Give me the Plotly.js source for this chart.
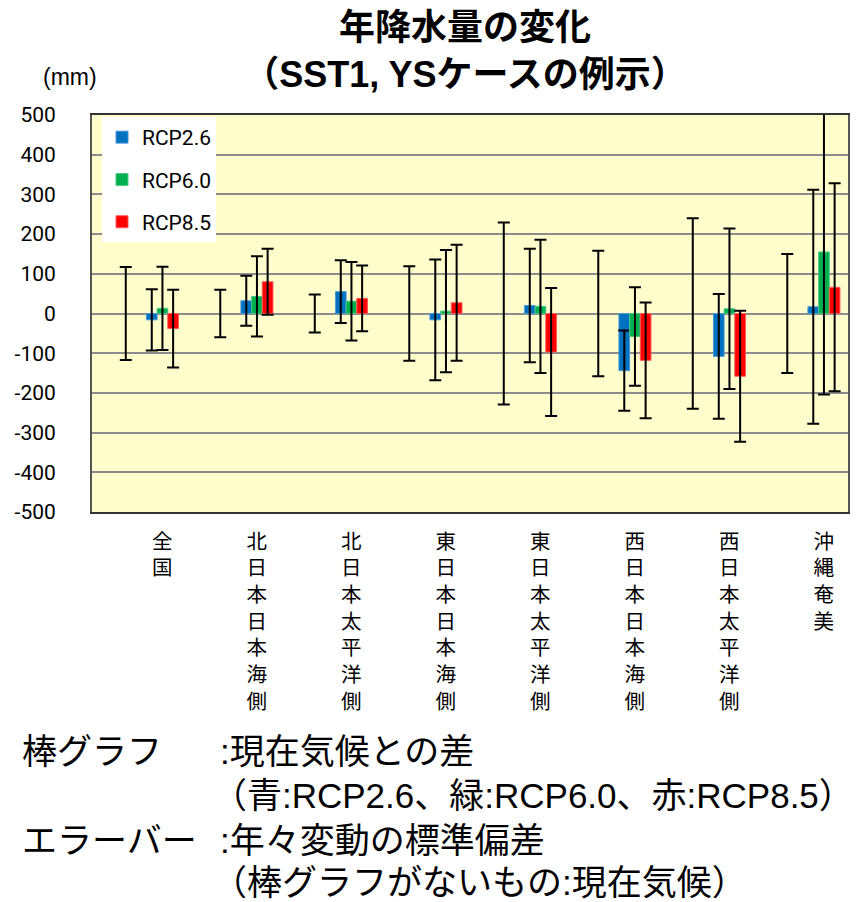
<!DOCTYPE html>
<html>
<head>
<meta charset="utf-8">
<script src="https://cdn.plot.ly/plotly-3.0.1.min.js"></script>
<style>
html,body{margin:0;padding:0;background:#fff;}
#chart{width:861px;height:902px;}
</style>
</head>
<body>
<div id="chart"></div>
<script>
// ---- data ----
const categories = ['全国','北日本日本海側','北日本太平洋側','東日本日本海側','東日本太平洋側','西日本日本海側','西日本太平洋側','沖縄奄美'];
const currentSD = [117, 60, 48, 119, 229, 158, 240, 150];
const currentZero = [0, 0, 0, 0, 0, 0, 0, 0];
const rcp26 = [-16, 32, 55, -16, 20, -144, -108, 17];
const rcp26SD = [77, 63, 79, 152, 143, 101, 157, 295];
const rcp60 = [13, 43, 31, 6, 18, -58, 12, 155];
const rcp60SD = [105, 101, 99, 154, 168, 124, 202, 359];
const rcp85 = [-38, 80, 38, 27, -97, -118, -158, 66];
const rcp85SD = [98, 83, 83, 146, 161, 146, 165, 262];
const seriesNames = ['RCP2.6', 'RCP6.0', 'RCP8.5'];
const yTicks = [500, 400, 300, 200, 100, 0, -100, -200, -300, -400, -500];

const JP = '"Noto Sans CJK JP", "Liberation Sans", Arial, sans-serif';
const MIX = '"Liberation Sans", "Noto Sans CJK JP", Arial, sans-serif';
const NUM = 'Roboto, "Noto Sans", Arial, sans-serif';

const W = 0.113;
function err(arr){
  return {type:'data', array:arr, symmetric:true, visible:true, color:'#000', thickness:2, width:6};
}

const traces = [
  {type:'bar', name:'現在気候', x:categories, y:currentZero, width:W, offset:-0.199,
   marker:{color:'rgba(0,0,0,0)', line:{width:0}}, error_y:err(currentSD), showlegend:false, hoverinfo:'skip'},
  {type:'bar', name:seriesNames[0], x:categories, y:rcp26, width:W, offset:0.076, legendgroup:'a',
   marker:{color:'#0070C0', line:{color:'#4a9ad6', width:1}}, error_y:err(rcp26SD)},
  {type:'bar', name:seriesNames[1], x:categories, y:rcp60, width:W, offset:0.189, legendgroup:'b',
   marker:{color:'#00B050', line:{color:'#4cc883', width:1}}, error_y:err(rcp60SD)},
  {type:'bar', name:seriesNames[2], x:categories, y:rcp85, width:W, offset:0.302, legendgroup:'c',
   marker:{color:'#FF0000', line:{color:'#ff5a5a', width:1}}, error_y:err(rcp85SD)}
];

// pixel helpers for annotations (plot area: x 92..848, y 115..512)
const L = 92, R = 13, T = 115, B = 390, PW = 861 - L - R, PH = 902 - T - B;
const px = v => (v - L) / PW;
const py = v => (902 - B - v) / PH;

const bottomFont = {family: MIX, size: 35, color: '#000'};
function note(text, x, y, font){
  return {text:text, xref:'paper', yref:'paper', x:px(x), y:py(y), xanchor:'left', yanchor:'middle', showarrow:false, font:font};
}
const annotations = [
  {text:'(mm)', xref:'paper', yref:'paper', x:px(70), y:py(77), xanchor:'center', yanchor:'middle', showarrow:false, font:{family:MIX, size:23, color:'#000'}},
  note('棒グラフ', 20, 751, bottomFont),
  note(':現在気候との差', 218, 751, bottomFont),
  note('（青:RCP2.6、緑:RCP6.0、赤:RCP8.5）', 210, 795, bottomFont),
  note('エラーバー', 20, 840, bottomFont),
  note(':年々変動の標準偏差', 218, 840, bottomFont),
  note('（棒グラフがないもの:現在気候）', 210, 882, bottomFont)
];

const layout = {
  width: 861, height: 902,
  margin: {l:L, r:R, t:T, b:B, pad:0},
  paper_bgcolor: '#ffffff',
  plot_bgcolor: '#FFFDCC',
  barmode: 'overlay',
  showlegend: true,
  title: {
    text: '<b>年降水量の変化<br>（SST1, YSケースの例示）</b>',
    font: {family: MIX, size: 36, color:'#000'},
    xref: 'container', yref: 'container', x: 465/861, xanchor: 'center', y: 1 - 40/902, yanchor: 'top'
  },
  legend: {
    x: px(102), y: py(117), xanchor:'left', yanchor:'top',
    bgcolor:'#ffffff', borderwidth:0,
    font:{family:NUM, size:21, color:'#000'},
    traceorder:'grouped', tracegroupgap: 12, itemwidth: 30
  },
  xaxis: {
    type:'category',
    tickmode:'array', tickvals:categories,
    ticktext: categories.map(c => c.split('').join('<br>')),
    tickfont:{family:JP, size:20.5, color:'#000'},
    ticks:'', ticklabelshift: 23, ticklabelstandoff: 10,
    showgrid:false, zeroline:false,
    showline:true, mirror:true, linecolor:'#333', linewidth:2,
    range:[-0.5, categories.length - 0.5], fixedrange:true
  },
  yaxis: {
    range:[-500, 500],
    tickmode:'array', tickvals:yTicks, ticktext:yTicks.map(String),
    tickfont:{family:NUM, size:21, color:'#000'},
    ticks:'', ticklabelstandoff: 30,
    showgrid:true, gridcolor:'#8c8c8c', gridwidth:2,
    zeroline:true, zerolinecolor:'#8c8c8c', zerolinewidth:2,
    showline:true, mirror:true, linecolor:'#555', linewidth:2,
    fixedrange:true
  },
  annotations: annotations
};

Plotly.newPlot('chart', traces, layout, {displayModeBar:false, staticPlot:true});
</script>
</body>
</html>
